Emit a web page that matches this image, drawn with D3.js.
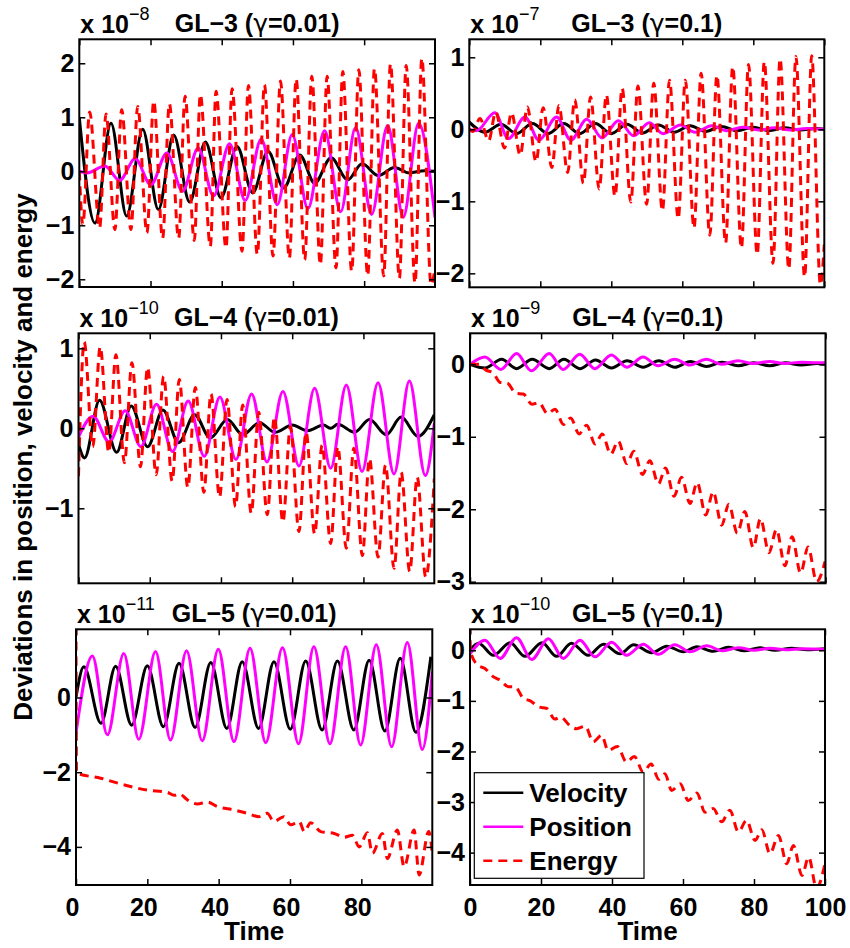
<!DOCTYPE html>
<html><head><meta charset="utf-8">
<script src="https://cdn.jsdelivr.net/npm/d3@7"></script>
<style>
body{margin:0;background:#fff}
svg{display:block}
text{font-family:"Liberation Sans",Arial,Helvetica,sans-serif;font-weight:bold;fill:#000}
</style>
</head><body>
<svg id="chart" width="850" height="948"></svg>
<script>
// ---------------- data (time, value) ----------------
const seriesNames = ["Velocity", "Position", "Energy"];
const panelTitles = ["GL−3 (γ=0.01)", "GL−3 (γ=0.1)", "GL−4 (γ=0.01)", "GL−4 (γ=0.1)", "GL−5 (γ=0.01)", "GL−5 (γ=0.1)"];
const panelExponents = ["−8", "−7", "−10", "−9", "−11", "−10"];
const yTicksA = [-2, -1, 0, 1, 2];
const yTicksB = [-2, -1, 0, 1];
const yTicksC = [-1, 0, 1];
const yTicksD = [-3, -2, -1, 0];
const yTicksE = [-4, -2, 0];
const yTicksF = [-4, -3, -2, -1, 0];
const xTicksLeft = [0, 20, 40, 60, 80];
const xTicksRight = [0, 20, 40, 60, 80, 100];
const yLimitsA = [-2.143, 2.444];
const yLimitsB = [-2.194, 1.25];
const yLimitsC = [-1.9375, 1.1875];
const yLimitsD = [-3.022, 0.428];
const yLimitsE = [-5.02, 1.826];
const yLimitsF = [-4.64, 0.415];
const xLimitsLeft = [0, 99.9];
const xLimitsRight = [0, 100];

// GL-3, gamma = 0.01  (x 1e-8)
const velA = [[0,1.0],[4.4,-0.96],[8.9,0.89],[13.3,-0.83],[17.8,0.78],[22.2,-0.71],[26.5,0.67],[31,-0.57],[35.4,0.54],[39.8,-0.49],[44.3,0.46],[48.7,-0.40],[53,0.37],[57.4,-0.31],[61.9,0.30],[66.1,-0.22],[70.7,0.25],[75.4,-0.16],[79.4,0.14],[84,-0.08],[88.5,0.07],[92.7,-0.03],[96.9,0.01],[99.9,0.0]];
const posA = [[0,0.0],[2.2,-0.03],[7.2,0.10],[11.3,-0.17],[15.7,0.23],[20.1,-0.25],[24.6,0.34],[29,-0.37],[33.4,0.43],[37.7,-0.46],[42.2,0.51],[46.6,-0.54],[51.1,0.60],[55.6,-0.62],[59.8,0.68],[64.2,-0.69],[68.9,0.75],[73.4,-0.75],[77.6,0.81],[82.1,-0.80],[86.6,0.85],[91,-0.85],[95.3,0.89],[99.9,-0.86]];
const enA = [[0,0],[1.0,-0.99],[2.9,1.10],[5.7,-1.05],[7.5,1.06],[10.0,-1.08],[11.9,1.14],[14.5,-1.08],[16.4,1.20],[19.0,-1.14],[20.9,1.30],[23.4,-1.24],[25.3,1.25],[27.9,-1.24],[29.7,1.39],[32.3,-1.28],[34.0,1.42],[36.8,-1.39],[38.4,1.48],[41.2,-1.42],[42.9,1.53],[45.7,-1.48],[47.5,1.59],[50.0,-1.54],[52.0,1.60],[54.4,-1.57],[56.5,1.67],[59.0,-1.61],[60.9,1.71],[63.3,-1.64],[65.3,1.76],[67.7,-1.73],[69.6,1.76],[72.1,-1.79],[74.0,1.85],[76.5,-1.85],[78.5,1.88],[81.0,-1.93],[82.9,1.90],[85.5,-1.94],[87.4,1.99],[89.9,-1.98],[91.8,1.96],[94.3,-2.07],[96.2,2.09],[98.8,-2.10],[99.9,-1.8]];

// GL-3, gamma = 0.1  (x 1e-7)
const velB = [[0,0.10],[4.4,-0.04],[8.9,0.07],[13.3,-0.06],[17.8,0.08],[22.2,-0.06],[26.6,0.08],[31.1,-0.06],[35.5,0.08],[40,-0.06],[44.4,0.07],[48.8,-0.05],[53.3,0.06],[57.7,-0.04],[62.2,0.05],[66.6,-0.03],[71,0.04],[75.5,-0.02],[80,0.03],[84.4,-0.02],[88.8,0.02],[93.3,-0.01],[97.7,0.01],[100,0.0]];
const posB = [[0,0.0],[2.0,-0.02],[7.2,0.23],[11,-0.13],[15.7,0.17],[19.6,-0.15],[24.6,0.17],[28.6,-0.15],[33.1,0.14],[37.4,-0.12],[42,0.12],[46.3,-0.09],[50.7,0.09],[54.6,-0.06],[59.5,0.06],[63.6,-0.04],[68.3,0.05],[72.5,-0.02],[77,0.03],[81.5,-0.01],[86,0.02],[90.5,-0.01],[95,0.01],[100,0.0]];
const enB = [[0,0],[1.0,-0.03],[3.0,0.15],[5.45,-0.16],[7.45,0.24],[9.9,-0.26],[11.9,0.23],[14.35,-0.36],[16.35,0.31],[18.8,-0.45],[20.8,0.30],[23.25,-0.53],[25.25,0.33],[27.7,-0.60],[29.7,0.41],[32.15,-0.75],[34.15,0.45],[36.6,-0.83],[38.6,0.48],[41.05,-0.93],[43.05,0.57],[45.5,-1.01],[47.5,0.60],[49.95,-1.04],[51.95,0.64],[54.4,-1.13],[56.4,0.68],[58.85,-1.24],[60.85,0.68],[63.3,-1.37],[65.3,0.78],[67.75,-1.47],[69.75,0.75],[72.2,-1.58],[74.2,0.87],[76.65,-1.65],[78.65,0.90],[81.1,-1.74],[83.1,0.94],[85.55,-1.86],[87.55,0.98],[90.0,-1.94],[92.0,1.01],[94.45,-2.05],[96.45,1.02],[98.9,-2.16],[100,-1.6]];

// GL-4, gamma = 0.01  (x 1e-10)
const velC = [[0,-0.20],[1.7,-0.37],[5.9,0.35],[10.7,-0.30],[14.8,0.28],[19.4,-0.23],[23.7,0.23],[28.1,-0.18],[32.6,0.17],[37,-0.12],[41.8,0.11],[46.1,-0.08],[50.8,0.07],[55.2,-0.05],[60,0.04],[64.3,-0.03],[68.8,0.04],[70.8,0.0],[72.8,0.05],[77.5,-0.05],[81.7,0.11],[86.4,-0.08],[90.6,0.14],[95.3,-0.10],[99.9,0.17]];
const posC = [[0,-0.11],[4.1,0.15],[8.6,-0.17],[13.1,0.22],[17.5,-0.23],[21.9,0.30],[26.4,-0.29],[30.8,0.34],[35.3,-0.35],[39.7,0.39],[44.2,-0.39],[48.6,0.43],[52.9,-0.42],[57.4,0.46],[61.9,-0.47],[66.3,0.50],[70.8,-0.50],[75.2,0.54],[79.6,-0.54],[84.1,0.57],[88.6,-0.57],[92.9,0.59],[97.4,-0.59],[99.9,0.06]];
const enC = [[0,-0.60],[1.6,1.08],[4.0,-0.23],[6.1,1.02],[8.5,-0.30],[10.5,0.92],[12.9,-0.43],[15.0,0.82],[17.4,-0.48],[19.4,0.76],[21.8,-0.58],[23.9,0.65],[26.3,-0.66],[28.3,0.61],[30.7,-0.74],[32.8,0.51],[35.2,-0.80],[37.2,0.43],[39.6,-0.86],[41.7,0.36],[44.1,-0.98],[46.1,0.29],[48.5,-1.06],[50.6,0.20],[53.0,-1.08],[55.0,0.14],[57.4,-1.17],[59.5,0.02],[61.9,-1.29],[63.9,-0.05],[66.3,-1.32],[68.4,-0.21],[70.8,-1.44],[72.8,-0.23],[75.2,-1.50],[77.3,-0.25],[79.7,-1.59],[81.7,-0.38],[84.1,-1.61],[86.2,-0.46],[88.6,-1.75],[90.6,-0.55],[93.0,-1.79],[95.1,-0.61],[97.5,-1.86],[99.9,-0.63]];

// GL-4, gamma = 0.1  (x 1e-9)
const velD = [[0,0],[4.2,-0.05],[8.9,0.07],[13.1,-0.06],[17.5,0.07],[22.3,-0.06],[26.4,0.07],[30.9,-0.06],[35.3,0.06],[39.8,-0.05],[44.2,0.05],[48.7,-0.04],[53.1,0.05],[57.6,-0.04],[62,0.04],[66.5,-0.03],[70.9,0.03],[75.4,-0.02],[79.8,0.02],[84.3,-0.02],[88.7,0.02],[93.2,-0.01],[97.6,0.01],[100,0.0]];
const posD = [[0,0],[4.2,0.10],[8.7,-0.07],[13.1,0.15],[17.3,-0.09],[22.3,0.15],[26.2,-0.07],[30.9,0.14],[35.1,-0.06],[39.8,0.13],[44.1,-0.04],[48.7,0.10],[52.9,-0.02],[57.6,0.07],[61.8,-0.01],[66.5,0.07],[70.7,0.0],[75.4,0.05],[79.6,0.01],[84.3,0.04],[88.5,0.01],[93.2,0.03],[97.4,0.02],[100,0.02]];
const enD = [[0,0],[2.5,0.0],[4.5,-0.08],[6.5,-0.12],[8.5,-0.25],[10.5,-0.26],[12.9,-0.40],[15.0,-0.41],[17.4,-0.55],[19.4,-0.53],[21.8,-0.68],[23.9,-0.62],[26.3,-0.83],[28.3,-0.74],[30.7,-0.96],[32.8,-0.84],[35.2,-1.10],[37.2,-0.96],[39.6,-1.24],[41.7,-1.06],[44.1,-1.37],[46.1,-1.20],[48.5,-1.52],[50.6,-1.33],[53.0,-1.65],[55.0,-1.43],[57.4,-1.82],[59.5,-1.56],[61.9,-1.92],[63.9,-1.63],[66.3,-2.08],[68.4,-1.76],[70.8,-2.22],[72.8,-1.93],[75.2,-2.33],[77.3,-2.03],[79.7,-2.53],[81.7,-2.13],[84.1,-2.60],[86.2,-2.28],[88.6,-2.78],[90.6,-2.38],[93.0,-2.88],[95.1,-2.52],[97.5,-3.0],[99.9,-2.72]];

// GL-5, gamma = 0.01  (x 1e-11)
const velE = [[0,0.0],[2.2,0.82],[7.0,-0.69],[11.1,0.84],[15.6,-0.74],[20,0.85],[24.5,-0.78],[28.9,0.92],[33.4,-0.80],[37.8,0.94],[42.3,-0.83],[46.6,0.96],[51.2,-0.83],[55.5,0.96],[60.1,-0.85],[64.4,0.98],[69,-0.87],[73.3,0.98],[77.9,-0.87],[82.2,1.0],[86.6,-0.90],[90.9,1.05],[95.3,-0.93],[99.5,1.09]];
const posE = [[0,-0.96],[4.6,1.11],[8.8,-1.0],[13.4,1.18],[17.6,-1.12],[22.3,1.23],[26.5,-1.14],[31,1.25],[35.4,-1.16],[39.9,1.29],[44.3,-1.18],[48.8,1.32],[53.2,-1.21],[57.9,1.33],[62.4,-1.24],[66.7,1.36],[71.2,-1.24],[75.6,1.36],[79.8,-1.27],[84.2,1.41],[88.5,-1.32],[92.9,1.47],[97.1,-1.39],[99.9,0.69]];
const enE = [[0,1.9],[0.15,-2.02],[6.9,-2.16],[13.5,-2.34],[20,-2.48],[25.6,-2.54],[27.5,-2.62],[29,-2.58],[31.2,-2.74],[34,-2.85],[36.8,-2.80],[39.6,-2.92],[44.3,-3.01],[48,-3.10],[51.3,-3.19],[53.6,-3.10],[55.5,-3.32],[58.3,-3.19],[60.2,-3.41],[62.6,-3.32],[64,-3.59],[65.8,-3.35],[68.6,-3.59],[72.4,-3.64],[75.2,-3.74],[77.5,-3.69],[79.4,-4.0],[81.7,-3.62],[83.1,-4.17],[85.9,-3.64],[87.3,-4.31],[90.1,-3.55],[92,-4.53],[94.8,-3.55],[96.2,-4.75],[98.9,-3.59],[99.9,-4.17]];

// GL-5, gamma = 0.1  (x 1e-10)
const velF = [[0,0],[2.4,0.14],[6.6,-0.10],[11.3,0.15],[15.5,-0.12],[20.3,0.15],[24.4,-0.12],[28.6,0.14],[33.3,-0.10],[37.6,0.12],[42.3,-0.07],[46.1,0.11],[51.2,-0.05],[55.4,0.08],[60.1,-0.03],[63.9,0.07],[68.5,-0.02],[72.8,0.06],[77.3,-0.01],[81.7,0.05],[86,0.0],[90.6,0.04],[95,0.01],[100,0.03]];
const posF = [[0,-0.07],[4.2,0.20],[8.5,-0.16],[13.1,0.25],[17.4,-0.18],[22.1,0.23],[26.3,-0.16],[31,0.20],[35.2,-0.13],[39.9,0.16],[44.1,-0.10],[48.8,0.12],[53,-0.08],[57.7,0.11],[62,-0.03],[66.7,0.09],[71,-0.01],[75.7,0.05],[80,0.0],[84.5,0.04],[89,0.01],[93.5,0.03],[100,0.02]];
const enF = [[0,0.5],[0.1,-0.02],[2.3,-0.30],[4.2,-0.36],[6.5,-0.52],[8.5,-0.59],[10.8,-0.72],[12.7,-0.72],[15.0,-0.95],[17.0,-1.0],[19.4,-1.12],[21.6,-1.15],[23.9,-1.36],[25.5,-1.32],[28.3,-1.50],[30.0,-1.55],[32.5,-1.50],[34.7,-1.81],[37.1,-1.68],[38.9,-1.98],[41.5,-1.90],[44.1,-2.21],[46.3,-2.10],[48.8,-2.41],[51,-2.25],[53.2,-2.55],[54.9,-2.44],[56.8,-2.77],[59.2,-2.64],[61.5,-2.97],[63.9,-2.82],[66.2,-3.20],[68.5,-3.13],[70.9,-3.39],[73.2,-3.16],[75.6,-3.59],[77.9,-3.36],[80.3,-3.76],[82.2,-3.55],[84.5,-4.02],[86.9,-3.66],[89.2,-4.22],[91.1,-3.86],[93.5,-4.45],[95.4,-4.09],[97.6,-4.70],[100,-4.22]];

// ---------------- layout / style ----------------
const boxes = [
  {x0:79.3, y0:39.3, x1:435,   y1:287},
  {x0:469.3,y0:39.3, x1:824.3, y1:287.3},
  {x0:78.5, y0:333.3,x1:434.3, y1:583.3},
  {x0:470,  y0:333.3,x1:825.5, y1:583.3},
  {x0:76,   y0:629.3,x1:432.3, y1:885},
  {x0:470,  y0:629.3,x1:825,   y1:885}
];
const xLabelShift = [0, 0, 0, 0, -4, 0];
const colors = {Velocity:"#000000", Position:"#ff00ff", Energy:"#ff0000"};
const FONT = 25;
const LW = 3;

const panels = [
  {vel:velA,pos:posA,en:enA,yT:yTicksA,yL:yLimitsA,xL:xLimitsLeft, xT:xTicksLeft, labels:false},
  {vel:velB,pos:posB,en:enB,yT:yTicksB,yL:yLimitsB,xL:xLimitsRight,xT:xTicksRight,labels:false},
  {vel:velC,pos:posC,en:enC,yT:yTicksC,yL:yLimitsC,xL:xLimitsLeft, xT:xTicksLeft, labels:false},
  {vel:velD,pos:posD,en:enD,yT:yTicksD,yL:yLimitsD,xL:xLimitsRight,xT:xTicksRight,labels:false},
  {vel:velE,pos:posE,en:enE,yT:yTicksE,yL:yLimitsE,xL:xLimitsLeft, xT:xTicksLeft, labels:true},
  {vel:velF,pos:posF,en:enF,yT:yTicksF,yL:yLimitsF,xL:xLimitsRight,xT:xTicksRight,labels:true}
];

const svg = d3.select("#chart");
const defs = svg.append("defs");

panels.forEach((p, i) => {
  const b = boxes[i];
  const x = d3.scaleLinear().domain(p.xL).range([b.x0, b.x1]);
  const y = d3.scaleLinear().domain(p.yL).range([b.y1, b.y0]);
  const g = svg.append("g");

  defs.append("clipPath").attr("id", "clip" + i)
    .append("rect").attr("x", b.x0).attr("y", b.y0)
    .attr("width", b.x1 - b.x0).attr("height", b.y1 - b.y0);

  const line = d3.line().x(d => x(d[0])).y(d => y(d[1])).curve(d3.curveMonotoneX);
  const plot = g.append("g").attr("clip-path", `url(#clip${i})`);
  plot.append("path").attr("d", line(p.vel)).attr("fill", "none")
    .attr("stroke", colors.Velocity).attr("stroke-width", LW);
  plot.append("path").attr("d", line(p.pos)).attr("fill", "none")
    .attr("stroke", colors.Position).attr("stroke-width", LW);
  plot.append("path").attr("d", line(p.en)).attr("fill", "none")
    .attr("stroke", colors.Energy).attr("stroke-width", LW)
    .attr("stroke-dasharray", "9,6");

  // axes (ticks point inward on all four sides)
  const styleAxis = sel => {
    sel.select(".domain").remove();
    sel.selectAll("line").attr("stroke", "#000").attr("stroke-width", 1.5);
    sel.selectAll("text").attr("font-size", FONT).attr("font-weight", "bold")
      .attr("font-family", '"Liberation Sans", Arial, sans-serif').attr("fill", "#000");
  };
  g.append("g").attr("transform", `translate(${b.x0},0)`)
    .call(d3.axisLeft(y).tickValues(p.yT).tickSizeInner(-6).tickSizeOuter(0).tickPadding(5).tickFormat(d3.format("d")))
    .call(styleAxis);
  g.append("g").attr("transform", `translate(${b.x1},0)`)
    .call(d3.axisRight(y).tickValues(p.yT).tickSizeInner(-6).tickSizeOuter(0).tickFormat(""))
    .call(styleAxis);
  const bottomAxis = d3.axisBottom(x).tickValues(p.xT).tickSizeInner(-6).tickSizeOuter(0).tickPadding(13)
    .tickFormat(p.labels ? d3.format("d") : "");
  const ba = g.append("g").attr("transform", `translate(0,${b.y1})`).call(bottomAxis).call(styleAxis);
  ba.selectAll("text").attr("dx", xLabelShift[i]);
  g.append("g").attr("transform", `translate(0,${b.y0})`)
    .call(d3.axisTop(x).tickValues(p.xT).tickSizeInner(-6).tickSizeOuter(0).tickFormat(""))
    .call(styleAxis);

  g.append("rect").attr("x", b.x0).attr("y", b.y0)
    .attr("width", b.x1 - b.x0).attr("height", b.y1 - b.y0)
    .attr("fill", "none").attr("stroke", "#000").attr("stroke-width", 2);

  // exponent label "x 10^n"
  const ex = g.append("text").attr("x", b.x0 + 1).attr("y", b.y0 - 6.5).attr("font-size", FONT);
  ex.append("tspan").text("x 10");
  ex.append("tspan").attr("dy", -13).attr("font-size", 18).attr("font-weight", "normal").text(panelExponents[i]);

  // title
  const t = panelTitles[i];
  const gi = t.indexOf("γ");
  const tt = g.append("text").attr("x", (b.x0 + b.x1) / 2).attr("y", b.y0 - 7)
    .attr("text-anchor", "middle").attr("font-size", FONT);
  tt.append("tspan").text(t.slice(0, gi));
  tt.append("tspan").attr("font-weight", "normal").attr("font-family", '"DejaVu Sans", sans-serif').text("γ");
  tt.append("tspan").text(t.slice(gi + 1));

  if (p.labels) {
    g.append("text").attr("x", (b.x0 + b.x1) / 2).attr("y", 940)
      .attr("text-anchor", "middle").attr("font-size", 26).text("Time");
  }
});

// y label
svg.append("text").attr("transform", "translate(32,457) rotate(-90)")
  .attr("text-anchor", "middle").attr("font-size", 26)
  .text("Deviations in position, velocity and energy");

// legend in the last panel
const lb = boxes[5];
const leg = svg.append("g").attr("transform", `translate(${lb.x0 + 4.3},${lb.y1 - 112.3})`);
leg.append("rect").attr("x", 0).attr("y", 0).attr("width", 169.7).attr("height", 105.6)
  .attr("fill", "#fff").attr("stroke", "#000").attr("stroke-width", 1.2);
seriesNames.forEach((name, k) => {
  const cy = 20 + k * 34;
  leg.append("line").attr("x1", 9).attr("x2", 49).attr("y1", cy).attr("y2", cy)
    .attr("stroke", colors[name]).attr("stroke-width", 2.5)
    .attr("stroke-dasharray", name === "Energy" ? "9,6" : null);
  leg.append("text").attr("x", 55).attr("y", cy).attr("dy", "0.35em")
    .attr("font-size", 26).text(name);
});
</script>
</body></html>
